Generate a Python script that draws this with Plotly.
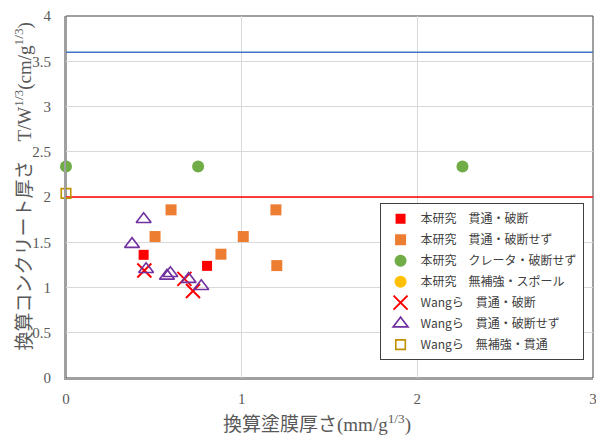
import plotly.graph_objects as go

# ---- data -------------------------------------------------------------
# 本研究 貫通・破断
own_pierce_break_x = [0.442, 0.803]
own_pierce_break_y = [1.361, 1.239]
# 本研究 貫通・破断せず
own_pierce_nobreak_x = [0.598, 1.195, 0.507, 1.009, 0.882, 1.200]
own_pierce_nobreak_y = [1.858, 1.858, 1.563, 1.563, 1.368, 1.242]
# 本研究 クレータ・破断せず
own_crater_x = [0.0, 0.752, 2.257]
own_crater_y = [2.337, 2.337, 2.337]
# 本研究 無補強・スポール
own_spall_x = [None]
own_spall_y = [None]
# Wangら 貫通・破断
wang_pierce_break_x = [0.446, 0.674, 0.723]
wang_pierce_break_y = [1.187, 1.095, 0.962]
# Wangら 貫通・破断せず
wang_pierce_nobreak_x = [0.442, 0.376, 0.456, 0.594, 0.575, 0.698, 0.770]
wang_pierce_nobreak_y = [1.754, 1.479, 1.202, 1.158, 1.128, 1.092, 1.014]
# Wangら 無補強・貫通
wang_plain_x = [0.0]
wang_plain_y = [2.04]

# reference limit lines
limit_x = [0, 3]
limit_blue_y = [3.6, 3.6]
limit_red_y = [2.0, 2.0]

x_ticks = [0, 1, 2, 3]
y_ticks = [0, 0.5, 1, 1.5, 2, 2.5, 3, 3.5, 4]
x_tick_text = ["0", "1", "2", "3"]
y_tick_text = ["0", "0.5", "1", "1.5", "2", "2.5", "3", "3.5", "4"]

SERIF = "Liberation Serif"
MIXED = "Liberation Serif, Noto Sans CJK JP"
CJK = "Noto Sans CJK JP"
GREY_TXT = "#595959"

fig = go.Figure()

fig.add_trace(go.Scatter(x=limit_x, y=limit_blue_y, mode="lines",
                         line=dict(color="#4472C4", width=1.5),
                         showlegend=False, hoverinfo="skip"))
fig.add_trace(go.Scatter(x=limit_x, y=limit_red_y, mode="lines",
                         line=dict(color="#FF0000", width=1.5),
                         showlegend=False, hoverinfo="skip"))

series = [
    ("本研究　貫通・破断", own_pierce_break_x, own_pierce_break_y,
     dict(symbol="square", size=10, color="#FF0000")),
    ("本研究　貫通・破断せず", own_pierce_nobreak_x, own_pierce_nobreak_y,
     dict(symbol="square", size=11, color="#ED7D31")),
    ("本研究　クレータ・破断せず", own_crater_x, own_crater_y,
     dict(symbol="circle", size=12, color="#70AD47")),
    ("本研究　無補強・スポール", own_spall_x, own_spall_y,
     dict(symbol="circle", size=12, color="#FFC000")),
    ("Wangら　貫通・破断", wang_pierce_break_x, wang_pierce_break_y,
     dict(symbol="x-thin-open", size=14, color="#FF0000",
          line=dict(color="#FF0000", width=2))),
    ("Wangら　貫通・破断せず", wang_pierce_nobreak_x, wang_pierce_nobreak_y,
     dict(symbol="triangle-up-open", size=13, color="#7030A0",
          line=dict(color="#7030A0", width=1.6))),
    ("Wangら　無補強・貫通", wang_plain_x, wang_plain_y,
     dict(symbol="square-open", size=9.5, color="#BF9000",
          line=dict(color="#BF9000", width=1.6))),
]

for i, (name, xs, ys, mk) in enumerate(series):
    fig.add_trace(go.Scatter(x=xs, y=ys, mode="markers", name=name,
                             marker=mk, legendgroup=f"g{i}",
                             cliponaxis=False))

axis_common = dict(
    showgrid=True, gridcolor="#D9D9D9", gridwidth=1,
    zeroline=False, showline=True, linecolor="#A0A0A0", linewidth=2,
    ticks="outside", tickcolor="rgba(0,0,0,0)",
    tickfont=dict(family=SERIF, size=15, color=GREY_TXT),
)

fig.update_xaxes(range=[0, 3], tickmode="array", tickvals=x_ticks,
                 ticktext=x_tick_text, ticklabeloverflow="allow",
                 ticklen=6, **axis_common)
fig.update_yaxes(range=[0, 4], tickmode="array", tickvals=y_ticks,
                 ticktext=y_tick_text, ticklen=10, **axis_common)

fig.update_layout(
    template="none",
    font=dict(family=SERIF, size=14, color=GREY_TXT),
    width=596, height=437,
    margin=dict(l=66, r=3, t=16, b=59),
    paper_bgcolor="white", plot_bgcolor="white",
    showlegend=True,
    legend=dict(
        x=0.595, y=0.483, xanchor="left", yanchor="top",
        bgcolor="white", bordercolor="#404040", borderwidth=1,
        font=dict(family=CJK, size=12, color="#404040"),
        traceorder="grouped", tracegroupgap=2,
        itemwidth=30,
    ),
    shapes=[dict(type="rect", xref="paper", yref="paper",
                 x0=0, y0=0, x1=1, y1=1, layer="below",
                 line=dict(color="#404040", width=1))],
    annotations=[
        dict(text="換算塗膜厚さ(mm/g<sup>1/3</sup>)",
             xref="paper", yref="paper", x=0.4765, y=-0.126,
             xanchor="center", yanchor="middle", showarrow=False,
             font=dict(family=MIXED, size=19, color=GREY_TXT)),
        dict(text="換算コンクリート厚さ　T/W<sup>1/3</sup>(cm/g<sup>1/3</sup>)",
             xref="paper", yref="paper", x=-0.0824, y=0.5276,
             xanchor="center", yanchor="middle", textangle=-90,
             showarrow=False,
             font=dict(family=MIXED, size=19, color=GREY_TXT)),
    ],
)

fig.write_html("out.html")
